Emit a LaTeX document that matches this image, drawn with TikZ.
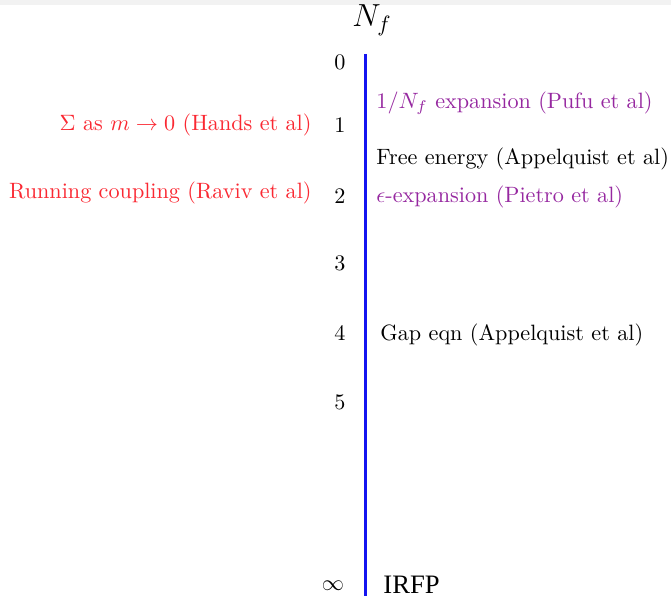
\documentclass[tikz,border=0pt]{standalone}
\usepackage{fontspec}
\newfontfamily\timesfont{Liberation Serif}
\definecolor{myred}{RGB}{250,40,50}
\definecolor{mypurple}{RGB}{150,40,160}
\definecolor{topgrey}{RGB}{242,242,242}
\definecolor{axisblue}{RGB}{20,20,240}
\begin{document}
\begin{tikzpicture}[x=0.451pt,y=-0.451pt,
  lbl/.style={inner sep=0pt,font=\normalsize},
  num/.style={inner sep=0pt,anchor=center},
  leftlbl/.style={lbl,anchor=east,text=myred},
  rightlbl/.style={lbl,anchor=west},
  axis/.style={draw=axisblue,line width=1.35pt}]
\useasboundingbox (0,0) rectangle (671,598);
\fill[topgrey] (0,0) rectangle (671,5);
\node[num,font=\Large] (nf) at (372,20) {$N_f$};
\coordinate (top) at (365,54);
\coordinate (bot) at (365,596);
\draw[axis] (top) -- (bot);
\node[num] (n0) at (340,62) {0};
\node[num] (n1) at (340,125) {1};
\node[num] (n2) at (340,196) {2};
\node[num] (n3) at (340,263) {3};
\node[num] (n4) at (340,333) {4};
\node[num] (n5) at (340,402) {5};
\node[num] (ninf) at (333,586) {$\infty$};
\node[leftlbl] (hands) at (312,125) {$\Sigma$ as $m\to 0$ (Hands et al)};
\node[leftlbl] (raviv) at (312,193) {Running coupling (Raviv et al)};
\node[rightlbl,text=mypurple] (pufu) at (376,103) {$1/N_f$ expansion (Pufu et al)};
\node[rightlbl] (free) at (376,159) {Free energy (Appelquist et al)};
\node[rightlbl,text=mypurple] (pietro) at (376,197) {$\epsilon$-expansion (Pietro et al)};
\node[rightlbl] (gap) at (380,335) {Gap eqn (Appelquist et al)};
\node[rightlbl,font=\timesfont\large] (irfp) at (383,585) {IRFP};
\end{tikzpicture}
\end{document}
